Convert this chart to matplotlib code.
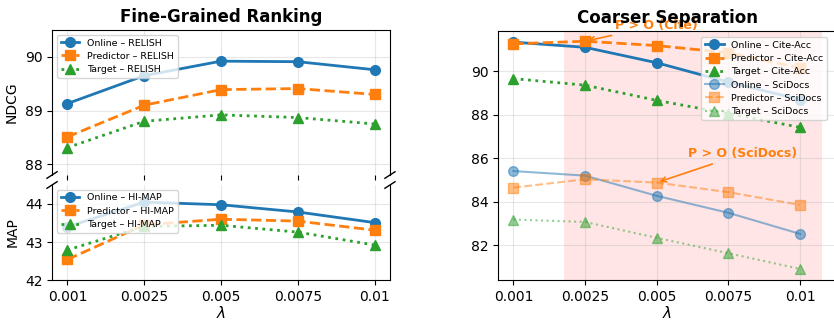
import numpy as np
import matplotlib
matplotlib.use("Agg")
import matplotlib.pyplot as plt

# 横轴
lambdas = ["0.001", "0.0025", "0.005", "0.0075", "0.01"]

# Fine-grained: NDCG (RELISH)
online_relish = [89.13, 89.65, 89.92, 89.91, 89.76]
predictor_relish = [88.51, 89.10, 89.39, 89.41, 89.30]
target_relish = [88.31, 88.80, 88.92, 88.87, 88.75]

# Fine-grained: MAP (HI-MAP)
online_himap = [43.40, 44.05, 43.98, 43.79, 43.51]
predictor_himap = [42.54, 43.45, 43.60, 43.55, 43.31]
target_himap = [42.79, 43.41, 43.44, 43.26, 42.92]

# Coarser: Cite-Acc
online_cite = [91.34, 91.10, 90.39, 89.50, 88.70]
predictor_cite = [91.26, 91.38, 91.18, 90.85, 90.15]
target_cite = [89.66, 89.36, 88.66, 88.05, 87.42]

# Coarser: SciDocs
online_sci = [85.41, 85.20, 84.27, 83.49, 82.52]
predictor_sci = [84.65, 85.03, 84.88, 84.44, 83.85]
target_sci = [83.18, 83.07, 82.34, 81.63, 80.91]

C_BLUE = "#1f77b4"
C_ORANGE = "#ff7f0e"
C_GREEN = "#2ca02c"


def draw_three(ax, ys, names, lw=2, ms=7, alpha=1.0):
    """画 online / predictor / target 三条线"""
    x = np.arange(len(lambdas))
    styles = [(C_BLUE, "o", "-"), (C_ORANGE, "s", "--"), (C_GREEN, "^", ":")]
    for y, name, (c, m, ls) in zip(ys, names, styles):
        ax.plot(x, y, color=c, marker=m, linestyle=ls, linewidth=lw,
                markersize=ms, alpha=alpha, label=name)


fig = plt.figure(figsize=(8.34, 3.21), dpi=100)

ax_top = fig.add_axes([0.0624, 0.4548, 0.4052, 0.4517])
ax_bot = fig.add_axes([0.0624, 0.1277, 0.4052, 0.2960])
ax_r = fig.add_axes([0.5971, 0.1277, 0.4065, 0.7757])

x = np.arange(len(lambdas))
leg_kw = dict(fontsize=6.8, framealpha=0.8, handlelength=2.0,
              borderpad=0.4, labelspacing=0.45)

# 左上: NDCG
draw_three(ax_top, [online_relish, predictor_relish, target_relish],
           ["Online – RELISH", "Predictor – RELISH", "Target – RELISH"])
ax_top.set_ylim(87.8, 90.5)
ax_top.set_yticks([88, 89, 90])
ax_top.set_ylabel("NDCG")
ax_top.set_title("Fine-Grained Ranking", fontsize=12, fontweight="bold")
ax_top.legend(loc="upper left", **leg_kw)

# 左下: MAP
draw_three(ax_bot, [online_himap, predictor_himap, target_himap],
           ["Online – HI-MAP", "Predictor – HI-MAP", "Target – HI-MAP"])
ax_bot.set_ylim(42, 44.5)
ax_bot.set_yticks([42, 43, 44])
ax_bot.set_ylabel("MAP")
ax_bot.set_xlabel(r"$\lambda$", fontsize=11, labelpad=1)
ax_bot.legend(loc="upper left", **leg_kw)

for ax in (ax_top, ax_bot):
    ax.set_xlim(-0.2, 4.2)
    ax.set_xticks(x)
    ax.grid(True, alpha=0.3)
    ax.tick_params(labelsize=10)
ax_bot.set_xticklabels(lambdas)
ax_top.set_xticklabels([])

# 断轴
ax_top.spines["bottom"].set_visible(False)
ax_bot.spines["top"].set_visible(False)
d = 0.015
kw = dict(transform=ax_top.transAxes, color="k", clip_on=False, linewidth=1)
ax_top.plot((-d, +d), (-d * 1.5, +d * 1.5), **kw)
ax_top.plot((1 - d, 1 + d), (-d * 1.5, +d * 1.5), **kw)
kw.update(transform=ax_bot.transAxes)
ax_bot.plot((-d, +d), (1 - d * 2.3, 1 + d * 2.3), **kw)
ax_bot.plot((1 - d, 1 + d), (1 - d * 2.3, 1 + d * 2.3), **kw)

# 右: Coarser Separation
ax_r.axvspan(0.7, 4.3, color="red", alpha=0.1, linewidth=0)
draw_three(ax_r, [online_cite, predictor_cite, target_cite],
           ["Online – Cite-Acc", "Predictor – Cite-Acc", "Target – Cite-Acc"])
draw_three(ax_r, [online_sci, predictor_sci, target_sci],
           ["Online – SciDocs", "Predictor – SciDocs", "Target – SciDocs"],
           lw=1.5, ms=7, alpha=0.5)
ax_r.set_xlim(-0.215, 4.515)
ax_r.set_ylim(80.4, 91.85)
ax_r.set_yticks([82, 84, 86, 88, 90])
ax_r.set_xticks(x)
ax_r.set_xticklabels(lambdas)
ax_r.tick_params(labelsize=10)
ax_r.grid(True, alpha=0.3)
ax_r.set_xlabel(r"$\lambda$", fontsize=11, labelpad=1)
ax_r.set_title("Coarser Separation", fontsize=12, fontweight="bold")
ax_r.legend(loc="upper right", bbox_to_anchor=(0.985, 0.995), **leg_kw)

ax_r.annotate("P > O (Cite)", xy=(1, predictor_cite[1]), xytext=(2.0, 92.1),
              color=C_ORANGE, fontsize=9, fontweight="bold", ha="center",
              va="center", annotation_clip=False,
              arrowprops=dict(arrowstyle="->", color=C_ORANGE, lw=1.2))
ax_r.annotate("P > O (SciDocs)", xy=(2, predictor_sci[2]), xytext=(3.2, 86.2),
              color=C_ORANGE, fontsize=9, fontweight="bold", ha="center",
              va="center",
              arrowprops=dict(arrowstyle="->", color=C_ORANGE, lw=1.2))

fig.savefig("out.png", dpi=100)
